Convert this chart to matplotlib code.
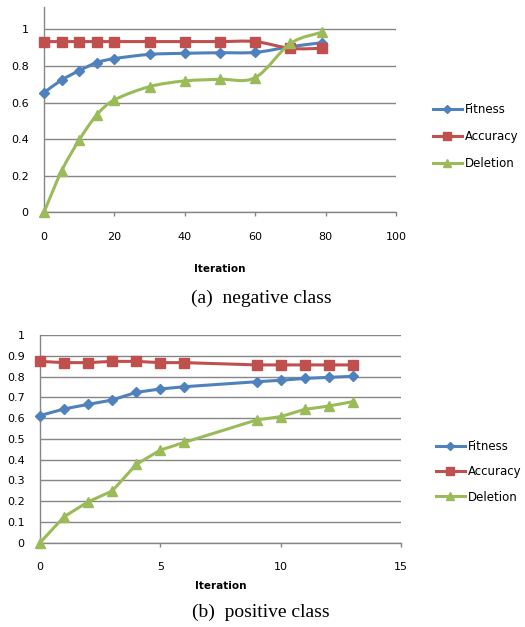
import matplotlib.pyplot as plt
import numpy as np
from matplotlib.path import Path
from matplotlib.patches import PathPatch
from matplotlib.lines import Line2D

# (a) negative class
iter_a = [0, 5, 10, 15, 20, 30, 40, 50, 60, 70, 79]
fitness_a = [0.654, 0.723, 0.774, 0.818, 0.840, 0.863, 0.869, 0.872, 0.874, 0.905, 0.927]
accuracy_a = [0.933, 0.933, 0.933, 0.933, 0.933, 0.933, 0.933, 0.933, 0.933, 0.896, 0.896]
deletion_a = [0.0, 0.226, 0.395, 0.532, 0.614, 0.687, 0.718, 0.727, 0.736, 0.923, 0.984]

# (b) positive class
iter_b = [0, 1, 2, 3, 4, 5, 6, 9, 10, 11, 12, 13]
fitness_b = [0.612, 0.644, 0.666, 0.687, 0.724, 0.740, 0.751, 0.775, 0.782, 0.791, 0.796, 0.801]
accuracy_b = [0.873, 0.867, 0.867, 0.873, 0.873, 0.867, 0.867, 0.856, 0.856, 0.856, 0.856, 0.856]
deletion_b = [0.0, 0.125, 0.197, 0.249, 0.377, 0.446, 0.483, 0.591, 0.607, 0.642, 0.658, 0.679]

names = ['Fitness', 'Accuracy', 'Deletion']
colors = ['#4F81BD', '#C0504D', '#9BBB59']
markers = ['D', 's', '^']
msizes = [5, 7.5, 7]
LW = 2.2
FS = 8

def smooth_path(x, y):
    # excel style smoothed line, drawn as bezier curves through the points
    p = np.column_stack([x, y]).astype(float)
    n = len(p)
    verts = [p[0]]
    codes = [Path.MOVETO]
    for i in range(n - 1):
        p0 = p[i - 1] if i > 0 else p[i]
        p3 = p[i + 2] if i + 2 < n else p[i + 1]
        c1 = p[i] + (p[i + 1] - p0) / 6
        c2 = p[i + 1] - (p3 - p[i]) / 6
        verts += [c1, c2, p[i + 1]]
        codes += [Path.CURVE4] * 3
    return Path(verts, codes)

def style_axes(ax, xpad):
    for s in ['top', 'right']:
        ax.spines[s].set_visible(False)
    for s in ['left', 'bottom']:
        ax.spines[s].set_color('#868686')
        ax.spines[s].set_linewidth(1)
    ax.yaxis.grid(True, color='#868686', linewidth=1)
    ax.set_axisbelow(True)
    ax.tick_params(axis='y', length=0, labelsize=FS, pad=11)
    ax.tick_params(axis='x', length=3, width=1, color='#868686', labelsize=FS, pad=xpad)

def legend(ax, x0, y0, spacing):
    handles = [Line2D([], [], color=c, lw=LW, marker=m, markersize=ms * 0.8)
               for c, m, ms in zip(colors, markers, msizes)]
    ax.legend(handles, names, loc='upper left', bbox_to_anchor=(x0, y0),
              bbox_transform=fig.transFigure, frameon=False, fontsize=8.5,
              handlelength=2.5, handletextpad=0.2, labelspacing=spacing,
              borderaxespad=0)

fig = plt.figure(figsize=(5.25, 6.27), dpi=100)

# top chart
ax1 = fig.add_axes([44 / 525, 1 - 212.3 / 627, 352 / 525, 205.3 / 627])
for i, ys in enumerate([fitness_a, accuracy_a, deletion_a]):
    ax1.add_patch(PathPatch(smooth_path(iter_a, ys), fill=False,
                            edgecolor=colors[i], lw=LW, zorder=3 + i))
    ax1.plot(iter_a, ys, ls='none', marker=markers[i], color=colors[i],
             markersize=msizes[i], zorder=3 + i, clip_on=False)
ax1.set_xlim(0, 100)
ax1.set_ylim(0, 1.122)
ax1.set_xticks([0, 20, 40, 60, 80, 100])
ax1.set_yticks([0, 0.2, 0.4, 0.6, 0.8, 1])
ax1.set_yticklabels(['0', '0.2', '0.4', '0.6', '0.8', '1'])
style_axes(ax1, 11)
ax1.set_xlabel('Iteration', fontsize=7.5, fontweight='bold')
ax1.xaxis.set_label_coords(220 / 525, 1 - 264 / 627, transform=fig.transFigure)
legend(ax1, 428 / 525, 1 - 98 / 627, 1.2)

# bottom chart
ax2 = fig.add_axes([40 / 525, 1 - 542.7 / 627, 361 / 525, 207.7 / 627])
for i, ys in enumerate([fitness_b, accuracy_b, deletion_b]):
    ax2.plot(iter_b, ys, marker=markers[i], color=colors[i], lw=LW,
             markersize=msizes[i], zorder=3 + i, clip_on=False)
ax2.set_xlim(0, 15)
ax2.set_ylim(0, 1)
ax2.set_xticks([0, 5, 10, 15])
ax2.set_yticks(np.arange(0, 1.01, 0.1))
ax2.set_yticklabels(['0', '0.1', '0.2', '0.3', '0.4', '0.5', '0.6', '0.7', '0.8', '0.9', '1'])
style_axes(ax2, 11)
ax2.set_xlabel('Iteration', fontsize=7.5, fontweight='bold')
ax2.xaxis.set_label_coords(221 / 525, 1 - 581 / 627, transform=fig.transFigure)
legend(ax2, 431 / 525, 1 - 435 / 627, 1.05)

fig.text(261 / 525, 1 - 298 / 627, '(a)  negative class', ha='center', va='center',
         family='Liberation Serif', fontsize=14)
fig.text(261 / 525, 1 - 612 / 627, '(b)  positive class', ha='center', va='center',
         family='Liberation Serif', fontsize=14)

fig.savefig('out.png', dpi=100)
